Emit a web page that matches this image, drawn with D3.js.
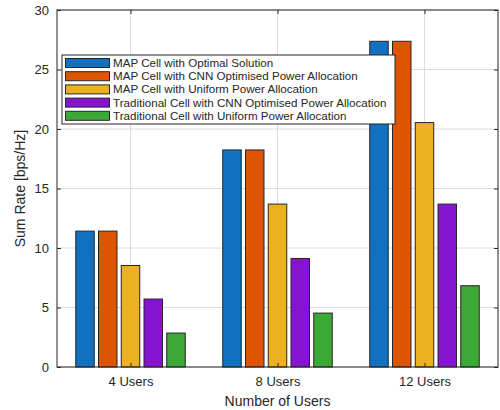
<!DOCTYPE html>
<html>
<head>
<meta charset="utf-8">
<script src="https://cdn.jsdelivr.net/npm/d3@7"></script>
<style>
  html, body { margin: 0; padding: 0; background: #fff; }
  svg { display: block; font-family: "Liberation Sans", Arial, sans-serif; }
</style>
</head>
<body>
<svg id="chart" width="500" height="410"></svg>
<script>
// Sum rate per user count for each cell / allocation scheme
const categories = ["4 Users", "8 Users", "12 Users"];
const seriesNames = [
  "MAP Cell with Optimal Solution",
  "MAP Cell with CNN Optimised Power Allocation",
  "MAP Cell with Uniform Power Allocation",
  "Traditional Cell with CNN Optimised Power Allocation",
  "Traditional Cell with Uniform Power Allocation"
];
const mapOptimal     = [11.42, 18.24, 27.37];
const mapCnn         = [11.42, 18.24, 27.37];
const mapUniform     = [8.53, 13.69, 20.54];
const tradCnn        = [5.71, 9.12, 13.69];
const tradUniform    = [2.85, 4.53, 6.83];
const yTicks = [0, 5, 10, 15, 20, 25, 30];

const seriesValues = [mapOptimal, mapCnn, mapUniform, tradCnn, tradUniform];
const colors = ["#1170C0", "#DD5500", "#EDB120", "#8513D0", "#3CA835"];

const svg = d3.select("#chart");
const plotL = 57, plotR = 498, plotT = 10, plotB = 367;

const x = d3.scaleLinear().domain([0.5, 3.5]).range([plotL, plotR]);
const y = d3.scaleLinear().domain([0, 30]).range([plotB, plotT]);

// grid
const grid = svg.append("g");
grid.selectAll("line.gy").data(yTicks).join("line")
  .attr("x1", plotL).attr("x2", plotR)
  .attr("y1", d => y(d)).attr("y2", d => y(d))
  .attr("stroke", "#dcdcdc").attr("stroke-width", 1);
grid.selectAll("line.gx").data(categories).join("line")
  .attr("x1", (d, i) => x(i + 1)).attr("x2", (d, i) => x(i + 1))
  .attr("y1", plotT).attr("y2", plotB)
  .attr("stroke", "#dcdcdc").attr("stroke-width", 1);

// bars
const pitch = 22.75, barW = 18.5;
const nS = seriesValues.length;
const bars = svg.append("g");
seriesValues.forEach((vals, s) => {
  bars.selectAll(null).data(vals).join("rect")
    .attr("x", (d, i) => x(i + 1) + (s - (nS - 1) / 2) * pitch - barW / 2)
    .attr("width", barW)
    .attr("y", d => y(d))
    .attr("height", d => y(0) - y(d))
    .attr("fill", colors[s])
    .attr("stroke", "#262626")
    .attr("stroke-width", 1);
});

// axes box
const axisColor = "#262626";
svg.append("rect")
  .attr("x", plotL).attr("y", plotT)
  .attr("width", plotR - plotL).attr("height", plotB - plotT)
  .attr("fill", "none").attr("stroke", axisColor).attr("stroke-width", 1);

// y axis
const yAxis = d3.axisLeft(y).tickValues(yTicks).tickSize(-4).tickPadding(8);
const gy = svg.append("g").attr("transform", `translate(${plotL},0)`).call(yAxis);
gy.select(".domain").remove();
gy.selectAll("line").attr("stroke", axisColor);
gy.selectAll("text").attr("font-size", 13).attr("fill", "#262626")
  .attr("font-family", "Liberation Sans, Arial, sans-serif");
// right-side ticks
const gyr = svg.append("g").attr("transform", `translate(${plotR},0)`)
  .call(d3.axisRight(y).tickValues(yTicks).tickSize(-4).tickFormat(""));
gyr.select(".domain").remove();
gyr.selectAll("line").attr("stroke", axisColor);

// x axis
const xAxis = d3.axisBottom(x).tickValues([1, 2, 3])
  .tickFormat(d => categories[d - 1]).tickSize(-4).tickPadding(10);
const gx = svg.append("g").attr("transform", `translate(0,${plotB})`).call(xAxis);
gx.select(".domain").remove();
gx.selectAll("line").attr("stroke", axisColor);
gx.selectAll("text").attr("font-size", 13).attr("fill", "#262626")
  .attr("font-family", "Liberation Sans, Arial, sans-serif");
const gxt = svg.append("g").attr("transform", `translate(0,${plotT})`)
  .call(d3.axisTop(x).tickValues([1, 2, 3]).tickSize(-4).tickFormat(""));
gxt.select(".domain").remove();
gxt.selectAll("line").attr("stroke", axisColor);

// axis labels
svg.append("text")
  .attr("x", (plotL + plotR) / 2).attr("y", 406)
  .attr("text-anchor", "middle").attr("font-size", 14).attr("fill", "#262626")
  .text("Number of Users");
svg.append("text")
  .attr("transform", `translate(25,${(plotT + plotB) / 2}) rotate(-90)`)
  .attr("text-anchor", "middle").attr("font-size", 14).attr("fill", "#262626")
  .text("Sum Rate [bps/Hz]");

// legend
const lg = svg.append("g");
const lgX = 62, lgY = 55, lgW = 333, lgH = 69, rowH = 13.2;
lg.append("rect")
  .attr("x", lgX).attr("y", lgY).attr("width", lgW).attr("height", lgH)
  .attr("fill", "#fff").attr("stroke", axisColor).attr("stroke-width", 1);
seriesNames.forEach((name, s) => {
  const cy = lgY + 8 + s * rowH;
  lg.append("rect")
    .attr("x", 65.5).attr("y", cy - 4.5).attr("width", 44).attr("height", 9)
    .attr("fill", colors[s]).attr("stroke", "#262626").attr("stroke-width", 1);
  lg.append("text")
    .attr("x", 113).attr("y", cy + 4)
    .attr("font-size", 11.6).attr("fill", "#262626")
    .text(name);
});
</script>
</body>
</html>
